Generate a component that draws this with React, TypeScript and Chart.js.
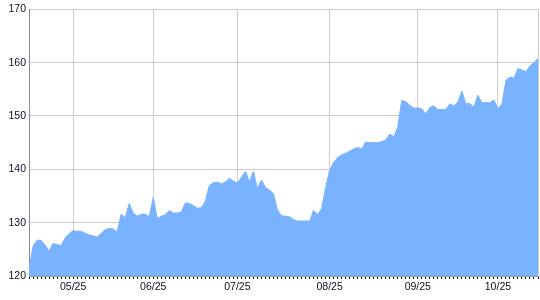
import React, { useEffect, useRef } from "react";
import { Chart, registerables } from "chart.js";

Chart.register(...registerables);

const values: number[] = [
  121.3, 125.6, 126.7, 126.7, 125.8, 124.7, 126.1, 125.9, 125.7, 127.1,
  127.9, 128.5, 128.4, 128.4, 128.0, 127.7, 127.5, 127.3, 128.0, 128.7,
  128.9, 128.8, 128.3, 131.6, 130.9, 133.6, 131.8, 131.2, 131.6, 131.6,
  131.1, 134.7, 130.8, 131.2, 131.5, 132.3, 131.8, 131.8, 132.0, 133.7,
  133.6, 133.2, 132.7, 132.8, 134.0, 137.0, 137.5, 137.6, 137.3, 137.6,
  138.3, 137.8, 137.4, 138.5, 139.6, 137.7, 139.6, 136.4, 138.0, 136.6,
  136.1, 135.4, 132.4, 131.3, 131.2, 131.1, 130.6, 130.3, 130.3, 130.3,
  130.3, 132.3, 131.5, 132.6, 136.5, 139.8, 141.3, 142.2, 142.7, 143.0,
  143.4, 143.8, 144.1, 143.8, 145.1, 145.0, 145.0, 145.0, 145.2, 145.5,
  146.6, 146.1, 147.9, 152.9, 152.7, 152.0, 151.5, 151.5, 151.3, 150.4,
  151.6, 151.9, 151.2, 151.2, 151.2, 152.3, 151.9, 152.6, 154.7, 152.3,
  152.3, 151.7, 153.9, 152.5, 152.5, 152.5, 153.0, 151.4, 152.2, 156.7,
  157.3, 157.1, 158.9, 158.6, 158.3, 159.4, 160.0, 160.8,
];

const monthTickLabels: string[] = ["05/25", "06/25", "07/25", "08/25", "09/25", "10/25"];
const monthTickIndex: number[] = [11, 31, 52, 75, 97, 117];

const yTicks: number[] = [120, 130, 140, 150, 160, 170];

const categories: string[] = values.map((_, i) => {
  const k = monthTickIndex.indexOf(i);
  return k >= 0 ? monthTickLabels[k] : "";
});

export default function App() {
  const ref = useRef<HTMLCanvasElement | null>(null);

  useEffect(() => {
    document.body.style.margin = "0";
    const canvas = ref.current;
    if (!canvas) return;
    const font = { family: "'Liberation Sans', Arial, sans-serif", size: 10.5 };
    const chart = new Chart(canvas, {
      type: "line",
      data: {
        labels: categories,
        datasets: [
          {
            data: values,
            borderColor: "rgb(121,179,255)",
            backgroundColor: "rgb(121,179,255)",
            borderWidth: 1,
            fill: "start",
            pointRadius: 0,
            tension: 0,
          },
        ],
      },
      options: {
        animation: false,
        responsive: false,
        events: [],
        layout: { padding: { top: 8, right: 1, left: 0, bottom: 0 } },
        plugins: { legend: { display: false }, tooltip: { enabled: false } },
        scales: {
          x: {
            type: "category",
            offset: false,
            border: { color: "#999", width: 1 },
            grid: {
              offset: false,
              drawOnChartArea: true,
              color: (ctx: any) => {
                const i = ctx.index;
                if (monthTickIndex.includes(i) || i === values.length - 1) return "#cccccc";
                return "rgba(0,0,0,0)";
              },
              tickColor: "#111",
              tickLength: 3,
            },
            ticks: {
              autoSkip: false,
              maxRotation: 0,
              minRotation: 0,
              padding: 2,
              color: "#0d0d1f",
              font,
            },
            afterFit: (scale: any) => {
              scale.height = 24;
            },
          },
          y: {
            min: 120,
            max: 170,
            border: { color: "#888", width: 1 },
            grid: { color: "#cccccc", drawTicks: false },
            afterBuildTicks: (scale: any) => {
              scale.ticks = yTicks.map((v) => ({ value: v }));
            },
            ticks: {
              padding: 3,
              color: "#0d0d1f",
              font,
            },
            afterFit: (scale: any) => {
              scale.width = 29;
            },
          },
        },
      },
    });
    return () => chart.destroy();
  }, []);

  return <canvas ref={ref} width={540} height={300} style={{ display: "block" }} />;
}
